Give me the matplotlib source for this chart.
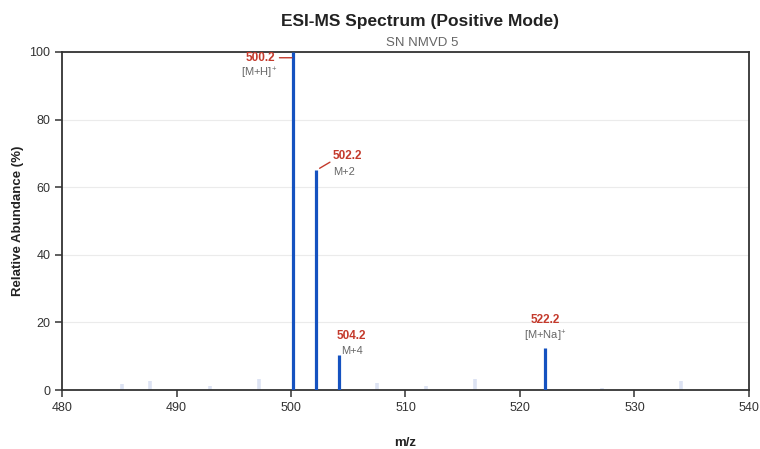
import matplotlib
matplotlib.use('Agg')
import matplotlib.pyplot as plt

plt.rcParams['font.family'] = ['Liberation Sans', 'DejaVu Sans']
plt.rcParams['mathtext.default'] = 'regular'

# main peaks
peak_mz = [500.2, 502.2, 504.2, 522.2]
peak_int = [100.0, 65.0, 10.4, 12.4]
peak_tags = ['[M+H]$^{+}$', 'M+2', 'M+4', '[M+Na]$^{+}$']

# small background peaks
noise_mz = [485.2, 487.7, 492.9, 497.2, 507.5, 511.8, 516.1, 527.2, 534.1]
noise_int = [1.8, 2.7, 1.2, 3.3, 2.0, 1.2, 3.3, 0.6, 2.7]

x_ticks = [480, 490, 500, 510, 520, 530, 540]
y_ticks = [0, 20, 40, 60, 80, 100]

BLUE = '#1552c0'
RED = '#c43a2c'
GRAY = '#666666'
AXIS = '#333333'

fig = plt.figure(figsize=(7.6, 4.49), dpi=100)
ax = fig.add_axes([0.0816, 0.1314, 0.9039, 0.7528])

ax.vlines(noise_mz, 0, noise_int, color='#dde3f3', linewidth=2.6, zorder=2)
ax.vlines(peak_mz, 0, peak_int, color=BLUE, linewidth=2.3, zorder=3)

ax.set_xlim(480, 540)
ax.set_ylim(0, 100)
ax.set_xticks(x_ticks)
ax.set_yticks(y_ticks)
ax.grid(axis='y', color='#ebebeb', linewidth=0.8)
ax.set_axisbelow(True)
for s in ax.spines.values():
    s.set_color(AXIS)
    s.set_linewidth(1.3)
ax.tick_params(colors=AXIS, labelsize=9, length=5, width=1.1)

# peak labels: (mz label offset, tag offset, tag alignment) in pixels
lbl = {
    500.2: ((-18, 0), (-34, -16), 'center'),
    502.2: ((16, 14), (17, -2), 'left'),
    504.2: ((12, 19), (2, 4), 'left'),
    522.2: ((0, 28), (0, 12), 'center'),
}
for mz, inten, tag in zip(peak_mz, peak_int, peak_tags):
    off, toff, tha = lbl[mz]
    ytop = inten
    if mz == 500.2:
        ytop = 98.3
        ax.annotate(f'{mz:.1f}', xy=(mz, ytop), xytext=off, textcoords='offset pixels',
                    ha='right', va='center', color=RED, fontsize=8.5, fontweight='bold',
                    arrowprops=dict(arrowstyle='-', color=RED, lw=1, shrinkA=1, shrinkB=1))
    elif mz == 502.2:
        ax.annotate(f'{mz:.1f}', xy=(mz, ytop), xytext=off, textcoords='offset pixels',
                    ha='left', va='center', color=RED, fontsize=8.5, fontweight='bold')
        ax.annotate('', xy=(mz + 0.3, ytop + 0.6), xytext=(mz + 1.2, ytop + 2.4),
                    arrowprops=dict(arrowstyle='-', color=RED, lw=1, shrinkA=0, shrinkB=0))
    else:
        ax.annotate(f'{mz:.1f}', xy=(mz, ytop), xytext=off, textcoords='offset pixels',
                    ha='center', va='center', color=RED, fontsize=8.5, fontweight='bold')
    ax.annotate(tag, xy=(mz, ytop), xytext=toff, textcoords='offset pixels',
                ha=tha, va='center', color=GRAY, fontsize=8)

fig.text(0.553, 0.952, 'ESI-MS Spectrum (Positive Mode)', ha='center', va='center',
         fontsize=12.5, fontweight='bold', color='#222222')
fig.text(0.555, 0.905, 'SN NMVD 5', ha='center', va='center', fontsize=9.5, color=GRAY)
ax.set_xlabel('m/z', fontsize=9.5, fontweight='bold', color='#222222', labelpad=17)
ax.set_ylabel('Relative Abundance (%)', fontsize=9.5, fontweight='bold', color='#222222', labelpad=4)

fig.savefig('out.png', dpi=100)
